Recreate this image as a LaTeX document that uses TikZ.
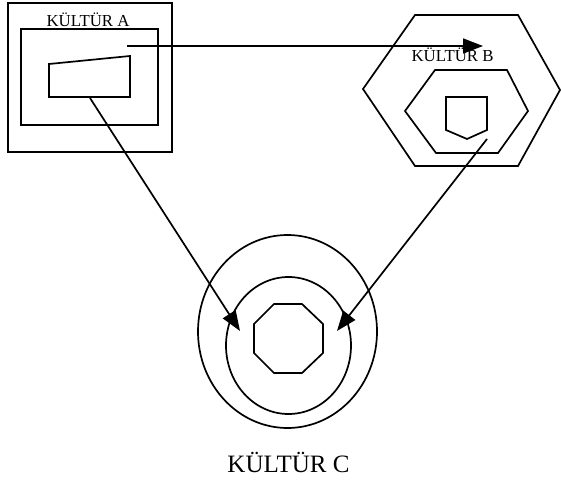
\documentclass[tikz,border=0pt]{standalone}
\usepackage{fontspec}
\setmainfont{Liberation Serif}
\usetikzlibrary{arrows.meta}
\begin{document}
\begin{tikzpicture}[x=1pt,y=-1pt,
  shape line/.style={draw=black,line width=1.7pt,line join=miter},
  arr/.style={draw=black,line width=1.7pt,-{Triangle[length=20pt,width=15pt]}},
  lbl/.style={inner sep=0pt,anchor=base,font=\fontsize{16.8}{18}\selectfont},
  biglbl/.style={inner sep=0pt,anchor=base,font=\fontsize{25}{28}\selectfont}]
\useasboundingbox (0,0) rectangle (561,481);
% Culture A
\draw[shape line] (8,3) rectangle (172,152);
\draw[shape line] (21,29) rectangle (158,125);
\draw[shape line] (49,64) -- (130,56) -- (130,97) -- (49,97) -- cycle;
\node[lbl] (la) at (88,27) {KÜLTÜR A};
% Culture B
\draw[shape line] (415,15) -- (518,15) -- (560,90) -- (518,166) -- (415,166) -- (363,89) -- cycle;
\draw[shape line] (435,70) -- (507,70) -- (528,111) -- (498,153) -- (436,153) -- (405,111) -- cycle;
\draw[shape line] (446,97) -- (487,97) -- (487,130) -- (467,139) -- (446,130) -- cycle;
\node[lbl] (lb) at (452.5,62) {KÜLTÜR B};
% Culture C
\draw[shape line] (287.5,331.5) ellipse [x radius=89.5, y radius=96.5];
\draw[shape line] (288.5,345.5) ellipse [x radius=62.5, y radius=68.5];
\draw[shape line] (274,304) -- (302,304) -- (323,324) -- (323,353) -- (302,373) -- (274,373) -- (254,353) -- (254,324) -- cycle;
\node[biglbl] (lc) at (288.5,472) {KÜLTÜR C};
% connector end points
\coordinate (a1) at (127,46);
\coordinate (b1) at (483,46);
\coordinate (a2) at (90,98);
\coordinate (c1) at (240,331);
\coordinate (b2) at (487,139);
\coordinate (c2) at (337,331);
\draw[arr] (a1) -- (b1);
\draw[arr] (a2) -- (c1);
\draw[arr] (b2) -- (c2);
\end{tikzpicture}
\end{document}
